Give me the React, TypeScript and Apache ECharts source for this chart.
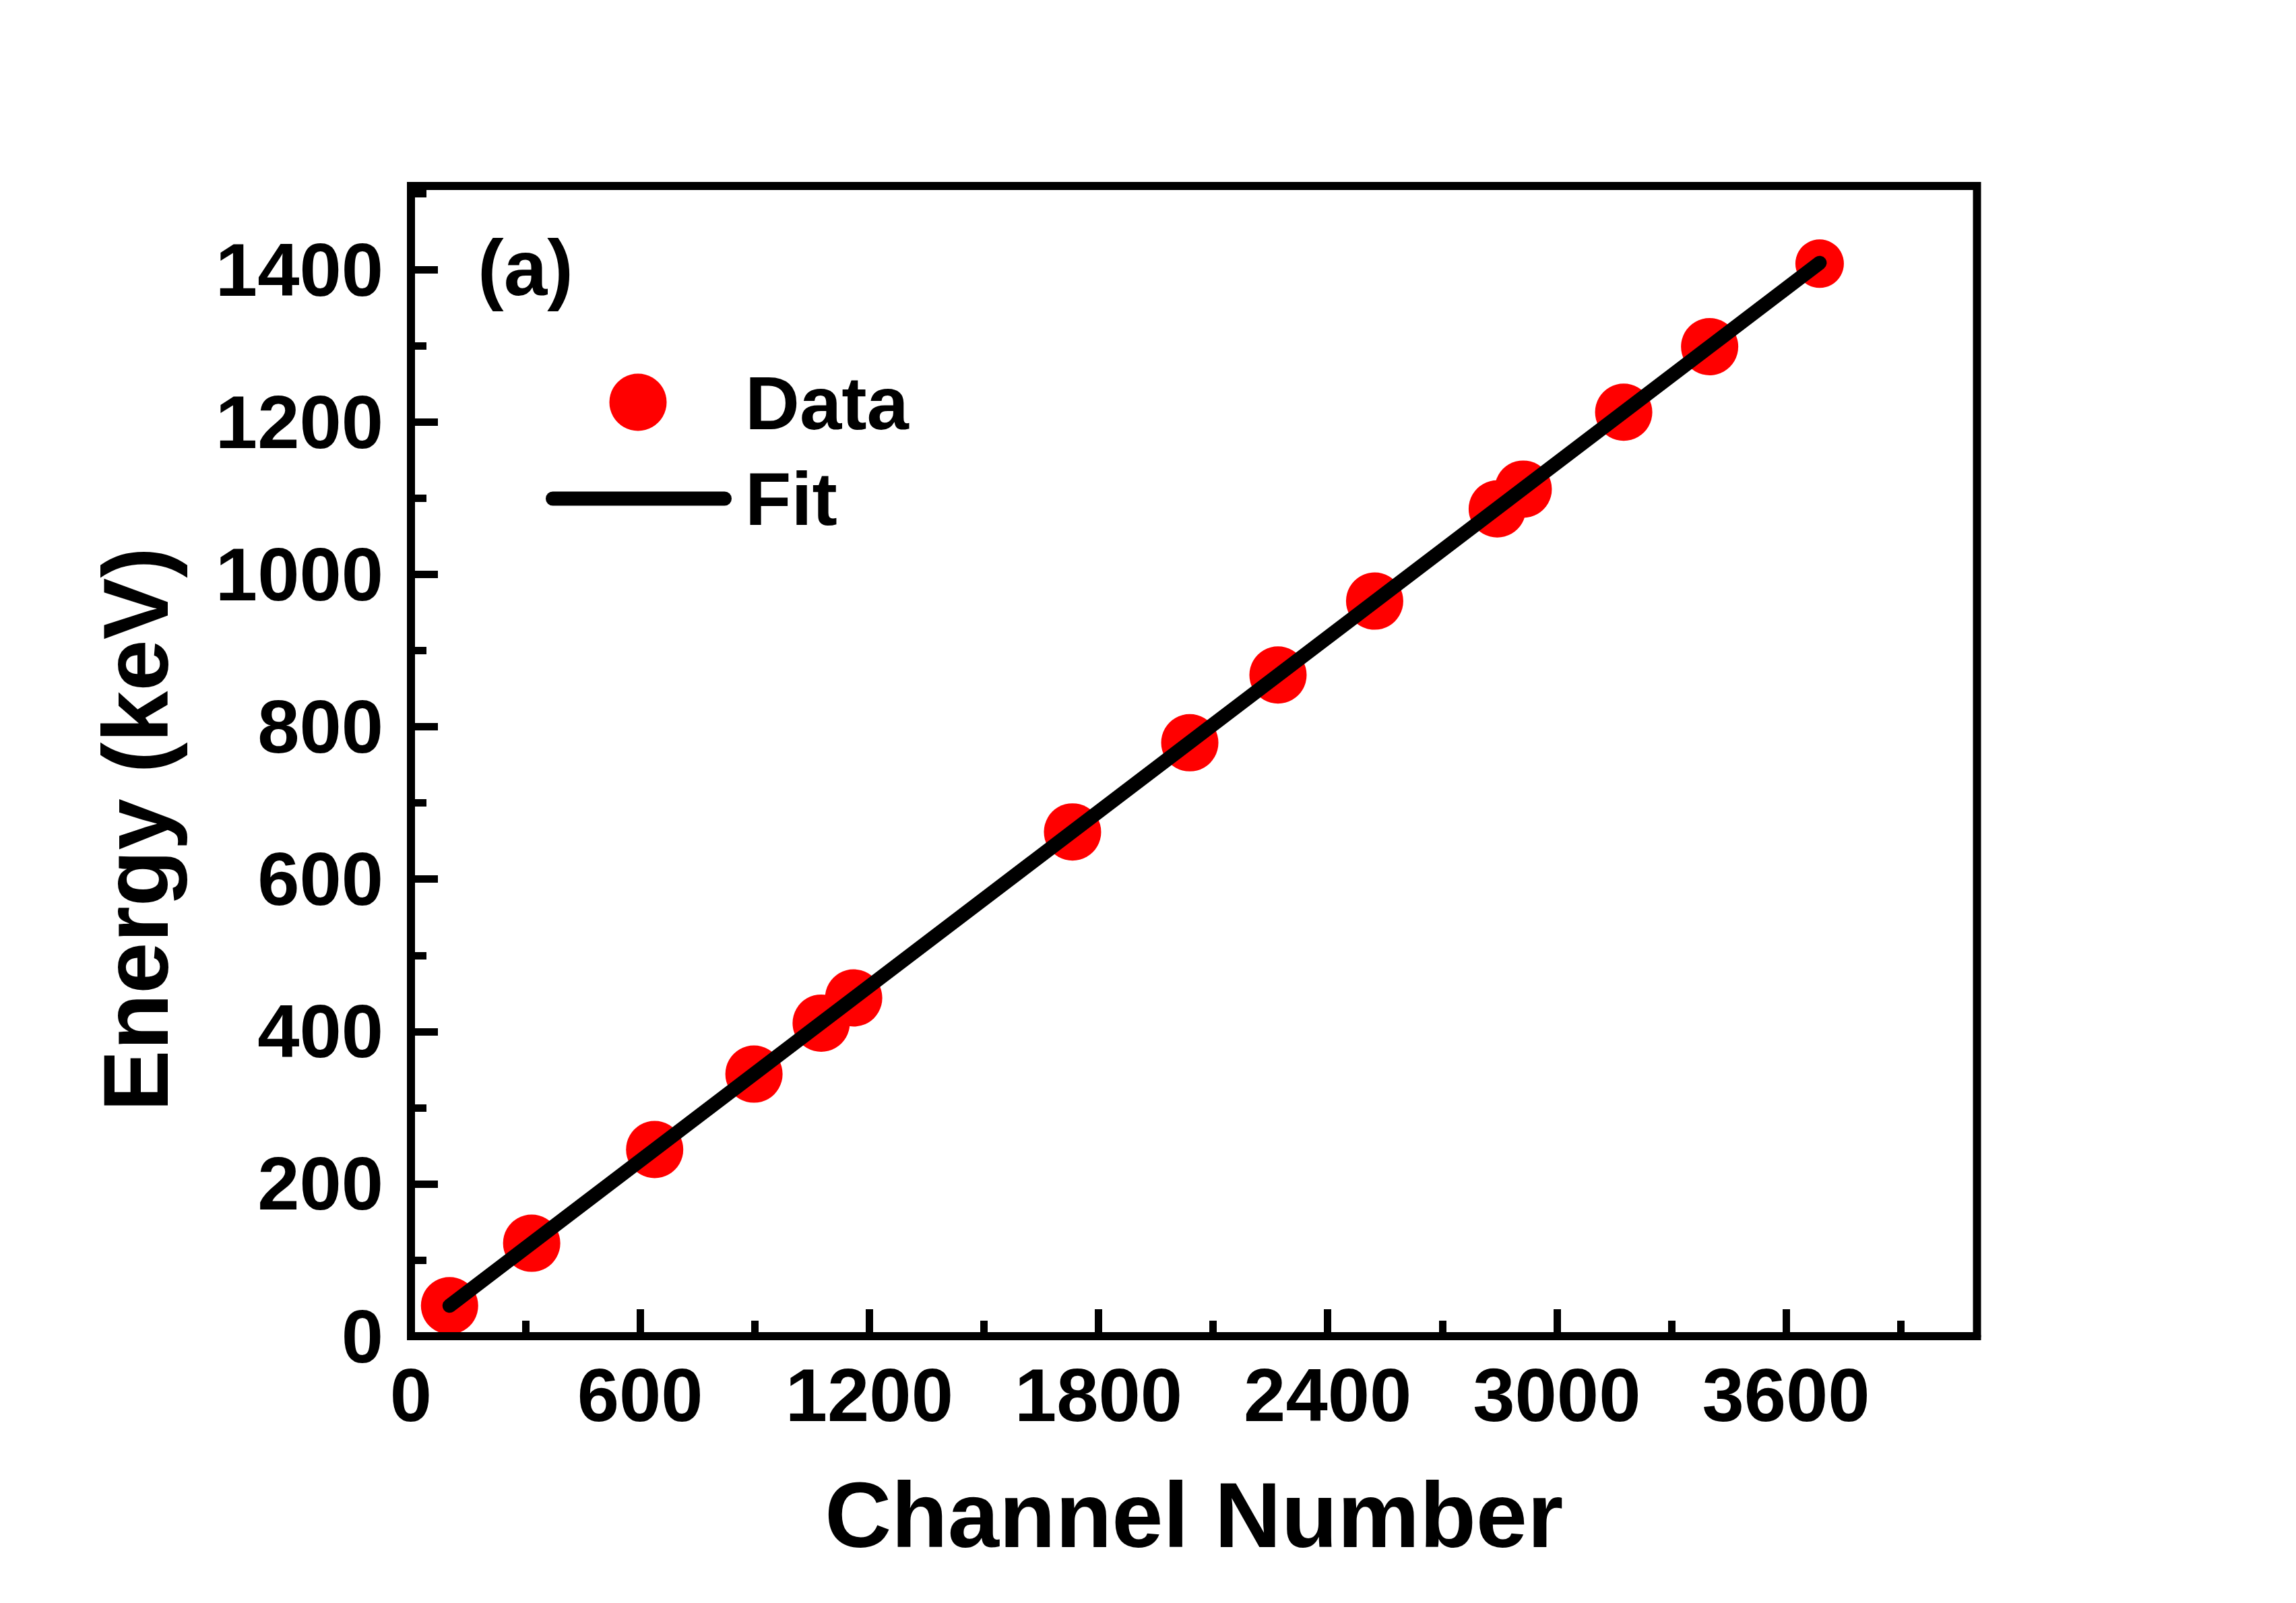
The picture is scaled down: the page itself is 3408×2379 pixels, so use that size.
import React, { useEffect, useRef } from "react";
import * as echarts from "echarts";

// ---- data ----
const channels = [101, 316, 638, 898, 1074, 1159, 1732, 2039, 2270, 2523, 2844, 2912, 3175, 3400, 3688];
const energies = [40, 122, 245, 344, 411, 444, 662, 779, 868, 965, 1086, 1112, 1213, 1299, 1408];
const markerSizes = [85, 85, 85, 85, 85, 85, 85, 85, 85, 85, 85, 85, 85, 85, 72];
const fitChannels = [101, 3688];
const fitEnergies = [40, 1409];
const xTickLabels = ["0", "600", "1200", "1800", "2400", "3000", "3600"];
const yTickLabels = ["0", "200", "400", "600", "800", "1000", "1200", "1400"];

const FONT = '"Liberation Sans", Arial, sans-serif';

export default function App() {
  const ref = useRef<HTMLDivElement>(null);
  useEffect(() => {
    if (!ref.current) return;
    const chart = echarts.init(ref.current, null, { renderer: "svg" });
    const scatterData = channels.map((c, i) => ({
      value: [c, energies[i]],
      symbolSize: markerSizes[i],
    }));
    const fitData = fitChannels.map((c, i) => [c, fitEnergies[i]]);
    const tickStyle = { color: "#000", width: 11 };
    const labelBase = {
      fontSize: 112,
      fontWeight: "bold" as const,
      fontFamily: FONT,
      color: "#000",
    };
    const option: any = {
      animation: false,
      backgroundColor: "#fff",
      grid: {
        left: 610,
        right: 473.5,
        top: 276,
        bottom: 396,
        show: true,
        borderColor: "#000",
        borderWidth: 12,
        backgroundColor: "transparent",
      },
      xAxis: [
        {
          type: "value",
          min: 0,
          max: 4100,
          interval: 600,
          position: "bottom",
          z: 10,
          axisLine: { show: true, lineStyle: { color: "#000", width: 12 } },
          splitLine: { show: false },
          axisTick: { show: true, inside: true, length: 40, lineStyle: tickStyle },
          axisLabel: {
            ...labelBase,
            margin: 31,
            showMaxLabel: false,
            formatter: (v: number) => (xTickLabels.includes(String(v)) ? String(v) : ""),
          },
          name: "Channel Number",
          nameLocation: "middle",
          nameGap: 197,
          nameTextStyle: { fontSize: 137, fontWeight: "bold", fontFamily: FONT, color: "#000" },
        },
        {
          type: "value",
          min: 0,
          max: 4100,
          interval: 300,
          position: "bottom",
          z: 10,
          axisLine: { show: false },
          splitLine: { show: false },
          axisTick: { show: true, inside: true, length: 23, lineStyle: tickStyle },
          axisLabel: { show: false },
        },
      ],
      yAxis: [
        {
          type: "value",
          min: 0,
          max: 1510,
          interval: 200,
          position: "left",
          z: 10,
          axisLine: { show: true, lineStyle: { color: "#000", width: 12 } },
          splitLine: { show: false },
          axisTick: { show: true, inside: true, length: 40, lineStyle: tickStyle },
          axisLabel: {
            ...labelBase,
            margin: 41,
            showMaxLabel: false,
            formatter: (v: number) => (yTickLabels.includes(String(v)) ? String(v) : ""),
          },
        },
        {
          type: "value",
          min: 0,
          max: 1510,
          interval: 100,
          position: "left",
          z: 10,
          axisLine: { show: false },
          splitLine: { show: false },
          axisTick: { show: true, inside: true, length: 23, lineStyle: tickStyle },
          axisLabel: { show: false },
        },
      ],
      series: [
        {
          name: "Data",
          type: "scatter",
          xAxisIndex: 0,
          yAxisIndex: 0,
          symbol: "circle",
          itemStyle: { color: "#ff0000", opacity: 1 },
          data: scatterData,
          z: 2,
        },
        {
          name: "Fit",
          type: "line",
          xAxisIndex: 0,
          yAxisIndex: 0,
          showSymbol: false,
          lineStyle: { color: "#000", width: 21, cap: "round", opacity: 1 },
          data: fitData,
          z: 3,
        },
      ],
      graphic: [
        {
          type: "text",
          x: 201.5,
          y: 1231,
          rotation: Math.PI / 2,
          style: {
            text: "Energy (keV)",
            fontSize: 137,
            fontWeight: "bold",
            fontFamily: FONT,
            fill: "#000",
            align: "center",
            verticalAlign: "middle",
          },
        },
        {
          type: "text",
          x: 709,
          y: 398,
          style: {
            text: "(a)",
            fontSize: 116,
            fontWeight: "bold",
            fontFamily: FONT,
            fill: "#000",
            align: "left",
            verticalAlign: "middle",
          },
        },
        {
          type: "circle",
          shape: { cx: 947, cy: 597, r: 42.5 },
          style: { fill: "#ff0000" },
        },
        {
          type: "line",
          shape: { x1: 820.5, y1: 740, x2: 1075.5, y2: 740 },
          style: { stroke: "#000", lineWidth: 21, lineCap: "round" },
        },
        {
          type: "text",
          x: 1106,
          y: 598,
          style: {
            text: "Data",
            fontSize: 112,
            fontWeight: "bold",
            fontFamily: FONT,
            fill: "#000",
            align: "left",
            verticalAlign: "middle",
          },
        },
        {
          type: "text",
          x: 1106,
          y: 740,
          style: {
            text: "Fit",
            fontSize: 112,
            fontWeight: "bold",
            fontFamily: FONT,
            fill: "#000",
            align: "left",
            verticalAlign: "middle",
          },
        },
      ],
    };
    chart.setOption(option);
    return () => chart.dispose();
  }, []);
  return (
    <div
      ref={ref}
      style={{ position: "fixed", left: 0, top: 0, width: "3408px", height: "2379px", background: "#fff" }}
    />
  );
}
